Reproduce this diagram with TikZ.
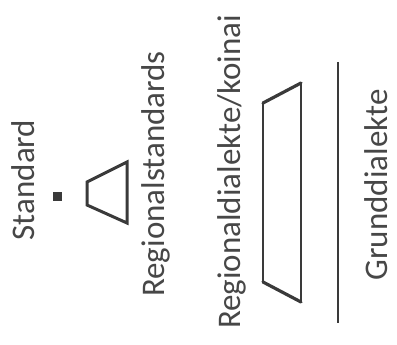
\documentclass[tikz,border=0pt]{standalone}
\usepackage{fontspec}
\setmainfont{Carlito}
\usetikzlibrary{positioning}
\definecolor{ink}{HTML}{3A3A3A}
\definecolor{txt}{HTML}{474747}
\tikzset{
  lbl/.style={
    rotate=90,
    inner sep=0pt,
    text=txt,
    font=\fontsize{33}{38}\selectfont
  },
  edge/.style={
    draw=ink,
    line width=1.6pt
  },
  heavy/.style={
    draw=ink,
    line width=3.2pt,
    line cap=round
  },
  dot/.style={
    fill=ink,
    inner sep=0pt,
    minimum size=9pt
  }
}
\begin{document}
\begin{tikzpicture}[x=1pt,y=-1pt]
\useasboundingbox (0,0) rectangle (397,345);
% labels
\node[lbl] (std) at (23,180) {Standard};
\node[lbl] (regstd) at (156,174) {Regionalstandards};
\node[lbl] (regdia) at (232,172) {Regionaldialekte/koinai};
\node[lbl] (grund) at (376,185) {Grunddialekte};
% standard
\node[dot] (pt) at (57,196.5) {};
% regional standards
\draw[edge,line width=3pt,line join=miter] (87,182) -- (127,162) -- (127,223) -- (87,205) -- cycle;
% regional dialects
\coordinate (a) at (263,103);
\coordinate (b) at (301,83);
\coordinate (c) at (301,302);
\coordinate (d) at (263,282);
\draw[edge] (a) -- (d);
\draw[edge] (b) -- (c);
\draw[heavy] (a) -- (b);
\draw[heavy] (d) -- (c);
% base dialects
\coordinate (top) at (338,62);
\coordinate (bot) at (338,323);
\draw[edge,line width=2.4pt] (top) -- (bot);
\end{tikzpicture}
\end{document}
